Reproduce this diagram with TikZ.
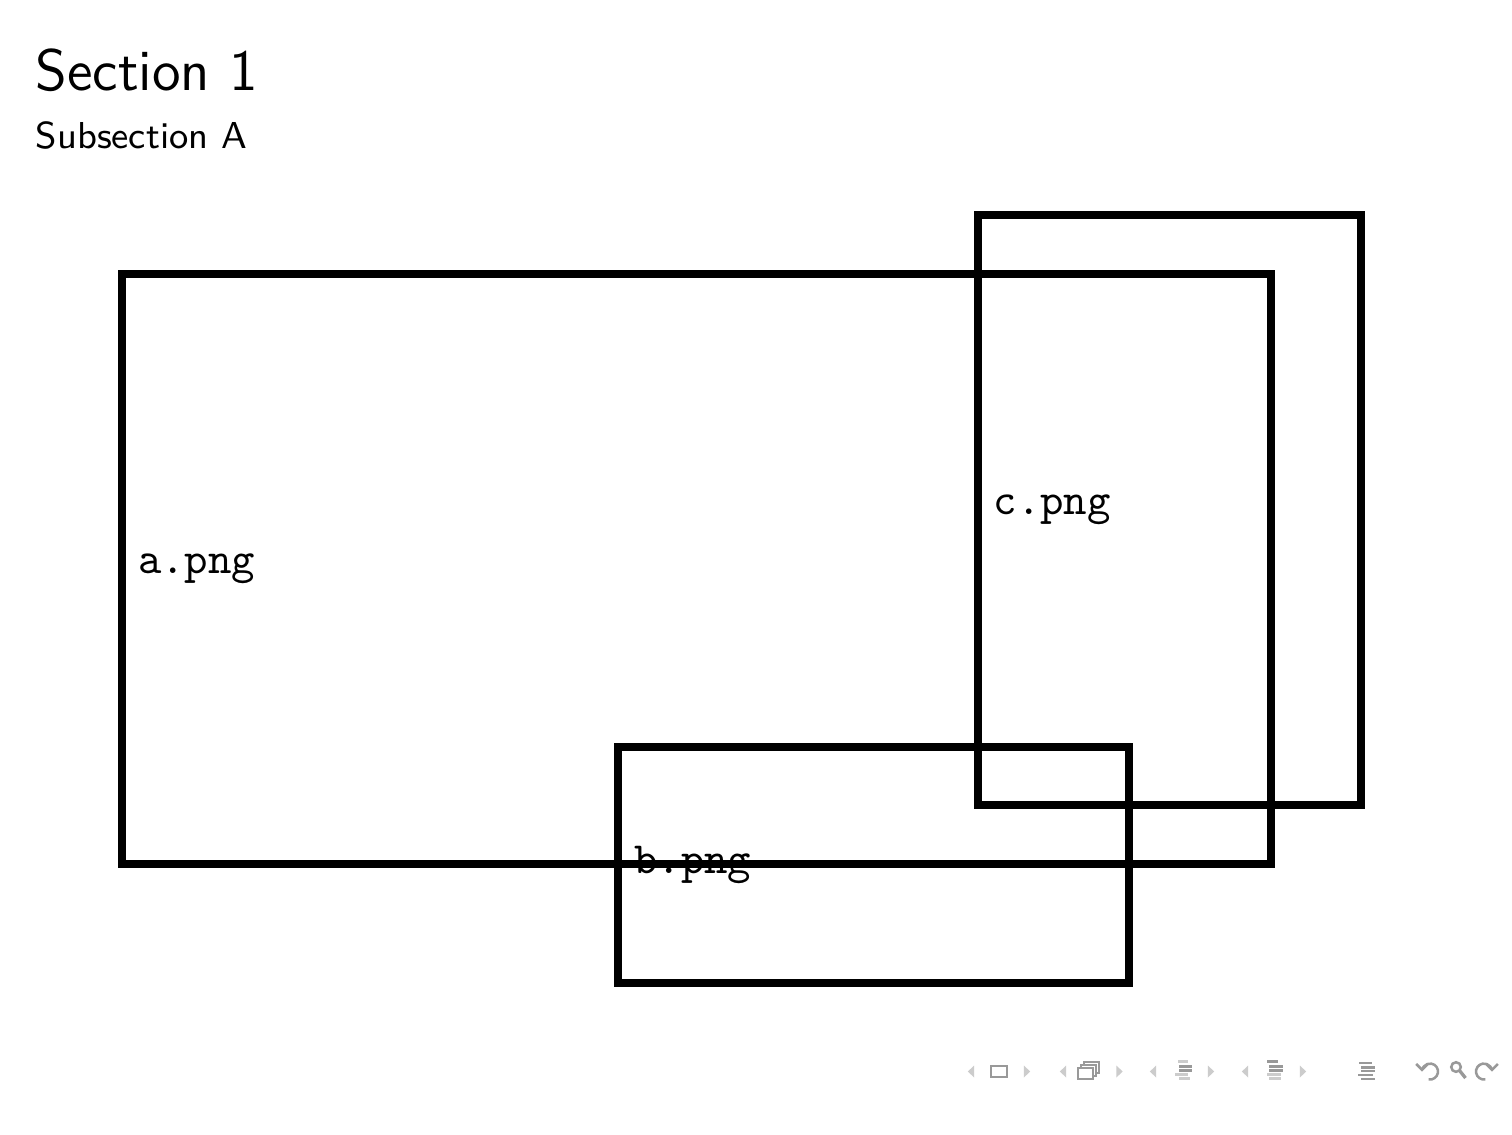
\documentclass[tikz,border=0pt]{standalone}
\usepackage{fontspec}
\usetikzlibrary{arrows.meta}
\definecolor{navlight}{gray}{0.80}
\definecolor{navdark}{gray}{0.60}
\begin{document}
\begin{tikzpicture}[x=0.24pt,y=-0.24pt,
  frame/.style={draw=black,line width=1.92pt},
  lbl/.style={anchor=west,inner sep=3.65pt,font=\fontsize{10.7}{13}\selectfont\ttfamily},
  navbar/.style={line width=0.7pt,line cap=butt},
  navl/.pic={\fill[navlight] (3.2,-6) -- (-3.2,0) -- (3.2,6) -- cycle;},
  navr/.pic={\fill[navlight] (-3.2,-6) -- (3.2,0) -- (-3.2,6) -- cycle;}]
\useasboundingbox[fill=white] (0,0) rectangle (1512,1134);
% titles
\node[anchor=base west,inner sep=0pt,font=\fontsize{14}{17}\selectfont\sffamily] (title) at (35,90) {Section 1};
\node[anchor=base west,inner sep=0pt,font=\fontsize{9}{11}\selectfont\sffamily] (subtitle) at (35,148) {Subsection A};
% boxes
\coordinate (A1) at (122,273.5); \coordinate (A2) at (1270.7,864);
\coordinate (B1) at (618.3,746.7); \coordinate (B2) at (1128.7,982.7);
\coordinate (C1) at (977.7,214.7); \coordinate (C2) at (1360.7,805.3);
\draw[frame] (A1) rectangle (A2);
\node[lbl] (la) at (122,568.75) {a.png};
\draw[frame] (B1) rectangle (B2);
\node[lbl] (lb) at (618.3,864.7) {b.png};
\draw[frame] (C1) rectangle (C2);
\node[lbl] (lc) at (977.7,510) {c.png};
% navigation symbols
\pic at (971,1071.5) {navl};
\draw[navdark,line width=0.55pt] (991,1066) rectangle (1007,1077);
\pic at (1027,1071.5) {navr};
\pic at (1063,1071.5) {navl};
\foreach \d in {6,3,0}{
  \draw[navdark,line width=0.55pt,fill=white] (1078+\d,1068-\d) rectangle (1093+\d,1079-\d);}
\pic at (1119.5,1071.5) {navr};
\pic at (1153,1071.5) {navl};
\draw[navbar,navlight] (1178,1061.5) -- (1188,1061.5);
\draw[navbar,navdark] (1179,1066.5) -- (1192,1066.5);
\draw[navbar,navdark] (1179,1070.5) -- (1192,1070.5);
\draw[navbar,navlight] (1175,1074.5) -- (1188,1074.5);
\draw[navbar,navlight] (1179,1078.5) -- (1190,1078.5);
\pic at (1211,1071.5) {navr};
\pic at (1245,1071.5) {navl};
\draw[navbar,navdark] (1267,1061.5) -- (1278,1061.5);
\draw[navbar,navdark] (1269,1066.5) -- (1283,1066.5);
\draw[navbar,navdark] (1269,1070.5) -- (1283,1070.5);
\draw[navbar,navlight] (1267,1074.5) -- (1281,1074.5);
\draw[navbar,navlight] (1269,1078.5) -- (1281,1078.5);
\pic at (1303,1071.5) {navr};
\draw[navbar,navdark] (1359,1063) -- (1372,1063);
\draw[navbar,navdark] (1361,1067.5) -- (1375,1067.5);
\draw[navbar,navdark] (1361,1071) -- (1375,1071);
\draw[navbar,navdark] (1358,1075) -- (1373,1075);
\draw[navbar,navdark] (1361,1079) -- (1375,1079);
% undo, search, redo
\draw[navdark,line width=0.6pt,-{Straight Barb[length=1.4pt,width=2.8pt]}] (1428.6,1079.4) arc[start angle=100,end angle=-180,radius=8];
\draw[navdark,line width=0.6pt] (1456,1067) circle[radius=4.8];
\draw[navdark,line width=0.8pt] (1459.5,1070.5) -- (1465.5,1078);
\draw[navdark,line width=0.6pt,-{Straight Barb[length=1.4pt,width=2.8pt]}] (1485.4,1079.4) arc[start angle=80,end angle=360,radius=8];
\end{tikzpicture}
\end{document}
